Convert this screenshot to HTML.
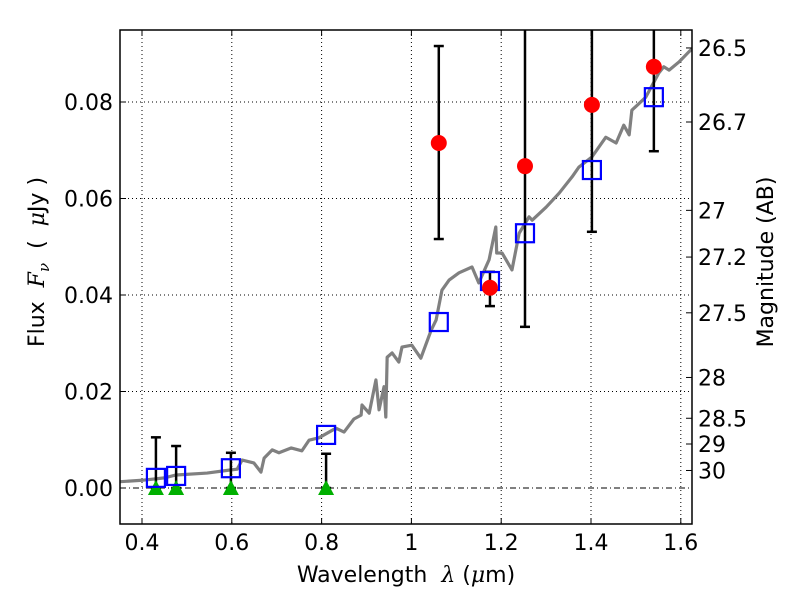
<!DOCTYPE html>
<html><head><meta charset="utf-8"><style>
body{margin:0;background:#fff}
svg text{font-family:"DejaVu Sans","Liberation Sans",sans-serif;fill:#000;white-space:pre}
</style></head><body>
<svg id="chart" width="800" height="600" xmlns="http://www.w3.org/2000/svg"></svg>
<script>
const xTicks=[0.4,0.6,0.8,1.0,1.2,1.4,1.6];
const xTickLabels=["0.4","0.6","0.8","1","1.2","1.4","1.6"];
const yTicks=[0,0.02,0.04,0.06,0.08];
const yTickLabels=["0.00","0.02","0.04","0.06","0.08"];
const magTicks=[26.5,26.7,27,27.2,27.5,28,28.5,29,30];
const magLabels=["26.5","26.7","27","27.2","27.5","28","28.5","29","30"];
const specX=[0.35,0.40,0.45,0.476,0.545,0.594,0.612,0.623,0.649,0.665,0.672,0.69,0.705,0.732,0.756,0.772,0.794,0.832,0.85,0.872,0.888,0.89,0.906,0.921,0.928,0.939,0.943,0.946,0.957,0.972,0.979,1.001,1.021,1.044,1.055,1.068,1.084,1.106,1.135,1.15,1.173,1.188,1.19,1.202,1.224,1.24,1.262,1.269,1.3,1.329,1.358,1.373,1.402,1.433,1.456,1.473,1.485,1.491,1.522,1.551,1.562,1.574,1.596,1.618,1.625];
const specY=[0.0013,0.0016,0.0021,0.0027,0.0031,0.0037,0.0039,0.0058,0.0052,0.0033,0.0062,0.0079,0.0073,0.0083,0.0077,0.0099,0.0104,0.0124,0.0116,0.0143,0.0151,0.0172,0.0155,0.0224,0.0162,0.021,0.0147,0.0271,0.028,0.0261,0.0292,0.0296,0.0269,0.0327,0.0348,0.041,0.0431,0.0446,0.0458,0.0425,0.0473,0.0541,0.0487,0.0487,0.0452,0.0528,0.0562,0.0555,0.0582,0.0611,0.0645,0.0665,0.0686,0.0727,0.0715,0.0752,0.0732,0.0783,0.081,0.086,0.0873,0.0866,0.0883,0.0904,0.091];
const detX=[1.061,1.175,1.253,1.402,1.540];
const detY=[0.0715,0.0415,0.0667,0.0794,0.0873];
const detLo=[0.0516,0.0377,0.0334,0.0531,0.0698];
const detHi=[0.0916,0.0448,0.12,0.12,0.12];
const modX=[0.431,0.476,0.598,0.81,1.061,1.175,1.253,1.402,1.540];
const modY=[0.0021,0.0025,0.0041,0.011,0.0344,0.0429,0.0528,0.0659,0.081];
const limX=[0.431,0.476,0.598,0.81];
const limY=[0.0105,0.0087,0.0073,0.0071];

const L=120,R=692,T=30,B=524;
const X=v=>142+(v-0.4)*449;
const Y=v=>488-v*4825;
const svg=document.getElementById('chart');
const NS='http://www.w3.org/2000/svg';
function mk(tag,attrs,parent){const e=document.createElementNS(NS,tag);for(const k in attrs)e.setAttribute(k,attrs[k]);(parent||svg).appendChild(e);return e;}
const defs=mk('defs',{});const cp=mk('clipPath',{id:'clip'},defs);mk('rect',{x:L,y:T,width:R-L,height:B-T},cp);
const plot=mk('g',{'clip-path':'url(#clip)'});



xTicks.forEach((v,i)=>{
  const g=mk('line',{x1:X(v),x2:X(v),y1:T,y2:B,stroke:'#000','stroke-dasharray':'1,3','stroke-width':1},plot);
  
  
  mk('line',{x1:X(v),x2:X(v),y1:B,y2:B-6,stroke:'#000'});
  mk('line',{x1:X(v),x2:X(v),y1:T,y2:T+6,stroke:'#000'});
  const t=mk('text',{x:X(v),y:B+26,'text-anchor':'middle','font-size':22});t.textContent=xTickLabels[i];
  
  
});
yTicks.forEach((v,i)=>{
  const g=mk('line',{x1:L,x2:R,y1:Y(v),y2:Y(v),stroke:'#000','stroke-dasharray':v===0?'6,3,1,3':'1,3','stroke-width':1},plot);
  
  
  mk('line',{x1:L,x2:L+6,y1:Y(v),y2:Y(v),stroke:'#000'});
  const t=mk('text',{x:L-7,y:Y(v)+8,'text-anchor':'end','font-size':22});t.textContent=yTickLabels[i];
  
  
});
magTicks.forEach((m,i)=>{
  const f=Math.pow(10,(23.9-m)/2.5);const y=Y(f);
  mk('line',{x1:R-6,x2:R,y1:y,y2:y,stroke:'#000'});
  const t=mk('text',{x:R+6,y:y+8,'font-size':22});t.textContent=magLabels[i];
  
  
});

const sp=mk('polyline',{points:specX.map((x,i)=>X(x)+','+Y(specY[i])).join(' '),fill:'none',stroke:'#808080','stroke-width':3.2,'stroke-linejoin':'round'},plot);



function errbar(x,lo,hi){
  mk('line',{x1:X(x),x2:X(x),y1:Y(lo),y2:Y(hi),stroke:'#000','stroke-width':2.5},plot);
  mk('line',{x1:X(x)-5,x2:X(x)+5,y1:Y(lo),y2:Y(lo),stroke:'#000','stroke-width':2.5},plot);
  mk('line',{x1:X(x)-5,x2:X(x)+5,y1:Y(hi),y2:Y(hi),stroke:'#000','stroke-width':2.5},plot);
}
limX.forEach((x,i)=>{
  errbar(x,0,limY[i]);
  const p=mk('polygon',{points:`${X(x)},${Y(0)-8} ${X(x)-8},${Y(0)+7} ${X(x)+8},${Y(0)+7}`,fill:'#00b000'},plot);
  
  
});
detX.forEach((x,i)=>errbar(x,detLo[i],detHi[i]));
modX.forEach((x,i)=>{
  const r=mk('rect',{x:X(x)-9,y:Y(modY[i])-9,width:18,height:18,fill:'none',stroke:'#0000ff','stroke-width':2.2},plot);
  
  
});
detX.forEach((x,i)=>{
  const c=mk('circle',{cx:X(x),cy:Y(detY[i]),r:8,fill:'#ff0000'},plot);
  
  
});
const fr=mk('rect',{x:L,y:T,width:R-L,height:B-T,fill:'none',stroke:'#000','stroke-width':1.5});



const xl=mk('text',{x:406,y:582,'text-anchor':'middle','font-size':22});
xl.innerHTML='Wavelength  <tspan font-style="italic" font-family="DejaVu Serif">λ</tspan> (<tspan font-style="italic" font-family="DejaVu Serif">μ</tspan>m)';


const yl=mk('text',{x:0,y:0,'text-anchor':'middle','font-size':22,transform:'translate(44,262) rotate(-90)'});
yl.innerHTML='Flux  <tspan font-style="italic" font-family="DejaVu Serif">F</tspan><tspan font-style="italic" font-family="DejaVu Serif" font-size="15" dy="5">ν</tspan><tspan dy="-5">  (  </tspan><tspan font-style="italic" font-family="DejaVu Serif">μ</tspan>Jy )';


const yr=mk('text',{x:0,y:0,'text-anchor':'middle','font-size':22,transform:'translate(773,262) rotate(-90)'});
yr.textContent='Magnitude (AB)';


</script>
</body></html>
